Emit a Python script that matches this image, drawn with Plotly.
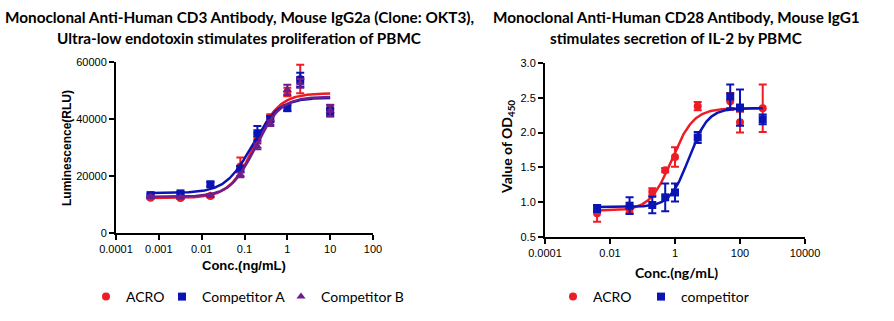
import numpy as np
import plotly.graph_objects as go

# ---------------- data ----------------
# Left panel: CD3 (OKT3) proliferation
x_left = [0.00064, 0.0032, 0.016, 0.08, 0.2, 0.4, 1, 2, 10]
acro_left = [12400, 12300, 13000, 23300, 33500, 40500, 49500, 54000, 43500]
acro_left_err = [400, 400, 500, 3200, 1500, 1200, 1500, 5000, 1500]
compA_left = [13300, 13900, 17100, 22500, 35000, 40000, 43800, 53700, 42500]
compA_left_err = [500, 500, 800, 1000, 2500, 1000, 1000, 2500, 1500]
compB_left = [12800, 12500, 13200, 20400, 30400, 38500, 50200, 52500, 42900]
compB_left_err = [400, 400, 500, 800, 1000, 1000, 1800, 1500, 2000]
# 4PL fit parameters [bottom, top, EC50, hill]
fit_acro_left = [12300, 49000, 0.17, 1.5]
fit_compA_left = [14000, 47500, 0.15, 1.4]
fit_compB_left = [12700, 47800, 0.18, 1.5]

# Right panel: CD28 IL-2 secretion
x_right = [0.004, 0.04, 0.2, 0.5, 1, 5, 50, 100, 500]
acro_right = [0.84, 0.90, 1.15, 1.46, 1.65, 2.38, 2.45, 2.15, 2.35]
acro_right_err = [0.12, 0.05, 0.05, 0.03, 0.14, 0.06, 0.12, 0.15, 0.34]
comp_right = [0.91, 0.95, 0.96, 1.07, 1.14, 1.93, 2.52, 2.36, 2.19]
comp_right_err = [0.05, 0.12, 0.12, 0.20, 0.13, 0.08, 0.17, 0.26, 0.07]
fit_acro_right = [0.88, 2.35, 0.8, 1.3]
fit_comp_right = [0.93, 2.35, 2.7, 1.5]

left_xticks = [0.0001, 0.001, 0.01, 0.1, 1, 10, 100]
left_xticktext = ["0.0001", "0.001", "0.01", "0.1", "1", "10", "100"]
left_yticks = [0, 20000, 40000, 60000]
left_yticktext = ["0", "20000", "40000", "60000"]
right_xticks = [0.0001, 0.01, 1, 100, 10000]
right_xticktext = ["0.0001", "0.01", "1", "100", "10000"]
right_yticks = [0.5, 1.0, 1.5, 2.0, 2.5, 3.0]

RED = "#EE1C24"
BLUE = "#0A14B4"
PURPLE = "#6E1E8C"

W, H = 894, 321


def px(x):
    return x / W


def py(y):
    return 1 - y / H


def fpl(x, p):
    b, t, ec, h = p
    x = np.asarray(x, dtype=float)
    return b + (t - b) / (1 + (ec / x) ** h)


fig = go.Figure()


def add_series(x, y, err, fit, color, symbol, name, xa, ya, legend):
    xs = np.logspace(np.log10(min(x)), np.log10(max(x)), 300)
    fig.add_trace(go.Scatter(x=xs, y=fpl(xs, fit), mode="lines",
                             line=dict(color=color, width=2.5),
                             xaxis=xa, yaxis=ya, showlegend=False,
                             hoverinfo="skip"))
    fig.add_trace(go.Scatter(x=x, y=y, mode="markers", name=name,
                             marker=dict(color=color, symbol=symbol, size=8),
                             error_y=dict(type="data", array=err, visible=True,
                                          color=color, thickness=2, width=4),
                             xaxis=xa, yaxis=ya, legend=legend))


add_series(x_left, acro_left, acro_left_err, fit_acro_left, RED, "circle",
           "ACRO", "x", "y", "legend")
add_series(x_left, compA_left, compA_left_err, fit_compA_left, BLUE, "square",
           "Competitor A", "x", "y", "legend2")
add_series(x_left, compB_left, compB_left_err, fit_compB_left, PURPLE,
           "triangle-up", "Competitor B", "x", "y", "legend3")
add_series(x_right, acro_right, acro_right_err, fit_acro_right, RED, "circle",
           "ACRO", "x2", "y2", "legend4")
add_series(x_right, comp_right, comp_right_err, fit_comp_right, BLUE, "square",
           "competitor", "x2", "y2", "legend5")

axis_common = dict(showline=True, linecolor="black", linewidth=2,
                   ticks="outside", ticklen=5, tickwidth=1.5, tickcolor="black",
                   showgrid=False, zeroline=False, automargin=False,
                   tickfont=dict(family="Liberation Sans, Arial", size=11,
                                 color="black"))


def leg(marker_x):
    return dict(orientation="h", x=px(marker_x - 20), y=py(297),
                xanchor="left", yanchor="middle",
                font=dict(family="Lato", size=14, color="black"),
                bgcolor="rgba(0,0,0,0)")


fig.update_layout(
    width=W, height=H, margin=dict(l=0, r=0, t=0, b=0, autoexpand=False),
    paper_bgcolor="white", plot_bgcolor="white",
    xaxis=dict(type="log", domain=[px(116), px(373)],
               range=[-4, 2], tickvals=left_xticks, ticktext=left_xticktext,
               anchor="y", **axis_common),
    yaxis=dict(domain=[py(233), py(62)], range=[0, 60000],
               tickvals=left_yticks, ticktext=left_yticktext, anchor="x",
               **axis_common),
    xaxis2=dict(type="log", domain=[px(545), px(805)],
                range=[-4, 4], tickvals=right_xticks, ticktext=right_xticktext,
                anchor="y2", **axis_common),
    yaxis2=dict(domain=[py(237), py(63)], range=[0.5, 3.0],
                tickvals=right_yticks, tickformat=".1f", anchor="x2",
                **axis_common),
    legend=leg(106),
    legend2=leg(182),
    legend3=leg(301),
    legend4=leg(573),
    legend5=leg(661),
)

title_font = dict(family="Lato", size=15.3, color="black", weight="bold")
ann = [
    dict(x=px(239), y=py(17), text="Monoclonal Anti-Human CD3 Antibody, Mouse IgG2a (Clone: OKT3),",
         font=title_font),
    dict(x=px(239), y=py(38), text="Ultra-low endotoxin stimulates proliferation of PBMC",
         font=title_font),
    dict(x=px(676), y=py(17), text="Monoclonal Anti-Human CD28 Antibody, Mouse IgG1",
         font=title_font),
    dict(x=px(676), y=py(38), text="stimulates secretion of IL-2 by PBMC",
         font=title_font),
    dict(x=px(244), y=py(265), text="Conc.(ng/mL)",
         font=dict(family="Liberation Sans, Arial", size=13, color="black",
                   weight="bold")),
    dict(x=px(676), y=py(272), text="Conc.(ng/mL)",
         font=dict(family="Lato", size=14, color="black", weight="bold")),
    dict(x=px(67), y=py(148), text="Luminescence(RLU)", textangle=-90,
         font=dict(family="Liberation Sans, Arial", size=12, color="black",
                   weight="bold")),
    dict(x=px(508), y=py(147), text="Value of OD<sub>450</sub>", textangle=-90,
         font=dict(family="Lato", size=14, color="black", weight="bold")),
]
for a in ann:
    a.update(xref="paper", yref="paper", showarrow=False,
             xanchor="center", yanchor="middle")
fig.update_layout(annotations=ann)

fig.write_html("out.html")
